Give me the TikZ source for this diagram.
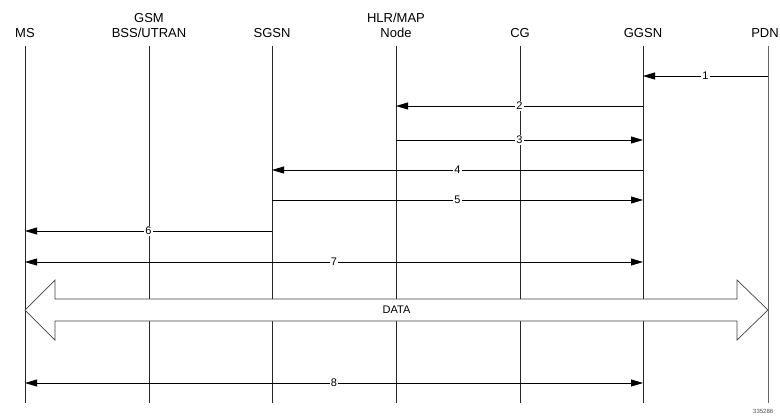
\documentclass[tikz,border=0pt]{standalone}
\usepackage{fontspec}
\setmainfont{Liberation Sans}
\usetikzlibrary{arrows.meta,calc}
\tikzset{
  lifeline/.style={line width=0.8pt, black!85},
  msg/.style={line width=0.8pt, -{Triangle[length=12pt,width=7pt]}},
  msgboth/.style={line width=0.8pt, {Triangle[length=12pt,width=7pt]}-{Triangle[length=12pt,width=7pt]}},
  num/.style={fill=white, inner sep=1pt, font=\fontsize{11}{11}\selectfont},
  head/.style={align=center, anchor=south, inner sep=0pt, font=\fontsize{13}{15}\selectfont},
  bigarrow/.style={draw=black!75, line width=0.7pt, fill=white},
}
\begin{document}
\begin{tikzpicture}[x=1pt,y=-1pt]
    \useasboundingbox (0,0) rectangle (780,416);

    % lifelines
    \foreach \name/\xx/\txt in {ms/25/{MS}, ran/149/{GSM\\BSS/UTRAN}, sgsn/272/{SGSN},
        hlr/396/{HLR/MAP\\Node}, cg/520/{CG}, ggsn/643/{GGSN}} {
        \node[head] (\name) at (\xx,38) {\txt};
        \draw[lifeline] (\xx,46) -- (\xx,403);
    }
    \node[head] (pdnlabel) at (765,38) {PDN};
    \coordinate (pdn) at (768,46);
    \draw[line width=1pt, black!60] (pdn) -- (pdn |- 0,403);

    % messages
    \draw[msg] (pdn |- 0,76) -- node[num] {1} (ggsn |- 0,76);
    \draw[msg] (ggsn |- 0,106) -- node[num] {2} (hlr |- 0,106);
    \draw[msg] (hlr |- 0,140) -- node[num] {3} (ggsn |- 0,140);
    \draw[msg] (ggsn |- 0,170) -- node[num] {4} (sgsn |- 0,170);
    \draw[msg] (sgsn |- 0,200) -- node[num] {5} (ggsn |- 0,200);
    \draw[msg] (sgsn |- 0,231) -- node[num] {6} (ms |- 0,231);
    \draw[msgboth] (ms |- 0,262) -- node[num] {7} (ggsn |- 0,262);

    % data
    \coordinate (dl) at (ms |- 0,310);
    \coordinate (dr) at (pdn |- 0,310);
    \draw[bigarrow] (dl) -- ++(30,-30) -- ++(0,19) -- ($(dr)+(-31,-11)$) -- ++(0,-19)
        -- (dr) -- ++(-31,30) -- ++(0,-19) -- ($(dl)+(30,11)$) -- ++(0,19) -- cycle;
    \node[font=\fontsize{11}{11}\selectfont] (data) at ($(dl)!0.5!(dr)$) {DATA};

    \draw[msgboth] (ms |- 0,383) -- node[num] {8} (ggsn |- 0,383);

    \node[anchor=west, inner sep=0pt, font=\fontsize{6}{6}\selectfont, black!70] (ref) at (753,411) {335286};
\end{tikzpicture}
\end{document}
